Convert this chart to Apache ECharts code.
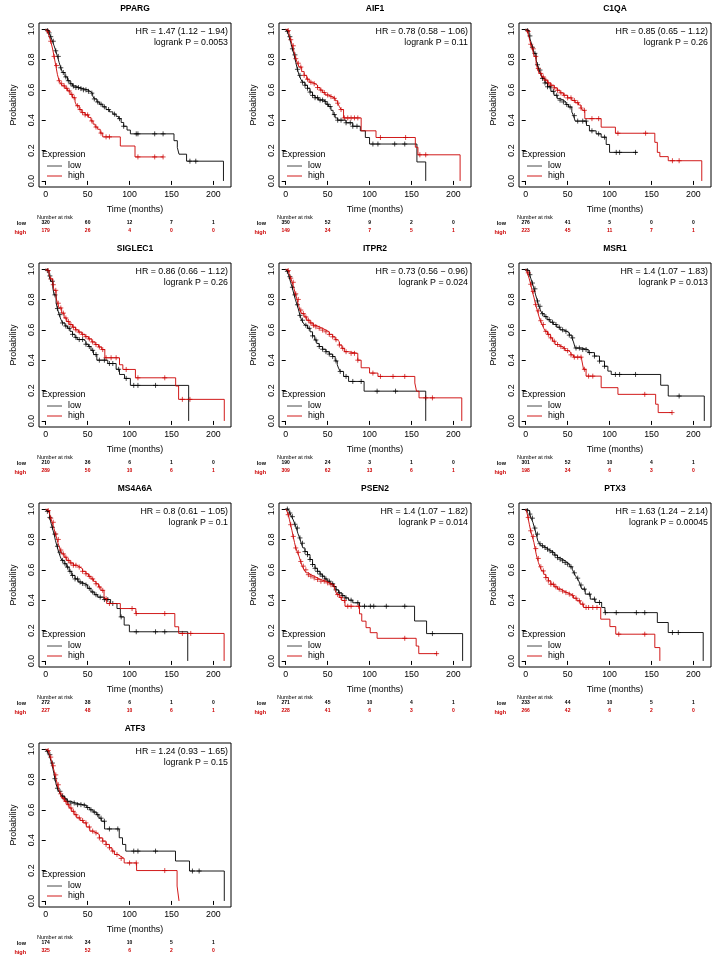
<!DOCTYPE html>
<html>
<head>
<meta charset="utf-8">
<script src="https://cdn.jsdelivr.net/npm/echarts@6/dist/echarts.min.js"></script>
<style>
  html, body { margin: 0; padding: 0; background: #fff; }
  #main { width: 719px; height: 962px; }
</style>
</head>
<body>
<div id="main"></div>
<script>
// panel names and stats text
const genes = ['PPARG', 'AIF1', 'C1QA', 'SIGLEC1', 'ITPR2', 'MSR1', 'MS4A6A', 'PSEN2', 'PTX3', 'ATF3'];
const hrText = [
  'HR = 1.47 (1.12 \u2212 1.94)', 'HR = 0.78 (0.58 \u2212 1.06)', 'HR = 0.85 (0.65 \u2212 1.12)',
  'HR = 0.86 (0.66 \u2212 1.12)', 'HR = 0.73 (0.56 \u2212 0.96)', 'HR = 1.4 (1.07 \u2212 1.83)',
  'HR = 0.8 (0.61 \u2212 1.05)', 'HR = 1.4 (1.07 \u2212 1.82)', 'HR = 1.63 (1.24 \u2212 2.14)',
  'HR = 1.24 (0.93 \u2212 1.65)'
];
const pText = [
  'logrank P = 0.0053', 'logrank P = 0.11', 'logrank P = 0.26', 'logrank P = 0.26', 'logrank P = 0.024',
  'logrank P = 0.013', 'logrank P = 0.1', 'logrank P = 0.014', 'logrank P = 0.00045', 'logrank P = 0.15'
];

const xTicks = [0, 50, 100, 150, 200];
const yTicks = [0, 0.2, 0.4, 0.6, 0.8, 1.0];

// number at risk at 0/50/100/150/200 months
const lowRisk = [
  [320, 60, 12, 7, 1], [350, 52, 9, 2, 0], [276, 41, 5, 0, 0], [210, 36, 6, 1, 0], [190, 24, 3, 1, 0],
  [301, 52, 10, 4, 1], [272, 38, 6, 1, 0], [271, 45, 10, 4, 1], [233, 44, 10, 5, 1], [174, 34, 10, 5, 1]
];
const highRisk = [
  [179, 26, 4, 0, 0], [149, 34, 7, 5, 1], [223, 45, 11, 7, 1], [289, 50, 10, 6, 1], [309, 62, 13, 6, 1],
  [198, 34, 6, 3, 0], [227, 48, 10, 6, 1], [228, 41, 6, 3, 0], [266, 42, 6, 2, 0], [325, 52, 6, 2, 0]
];

// survival curves [months, probability]
const lowCurves = [
  [[0,1],[2,0.99],[4,0.975],[6,0.95],[8,0.92],[10,0.89],[12,0.857],[14,0.82],[16,0.78],[18,0.745],[20,0.714],[23,0.685],[26,0.66],[29,0.64],[32,0.625],[36,0.615],[40,0.608],[45,0.6],[50,0.59],[53,0.578],[56,0.56],[58,0.54],[61,0.52],[64,0.505],[68,0.488],[72,0.47],[76,0.455],[80,0.44],[84,0.425],[87,0.41],[90,0.385],[93,0.36],[97,0.335],[101,0.31],[153,0.265],[157,0.22],[159,0.176],[168,0.13],[212,0]],
  [[0,1],[2,0.985],[4,0.95],[6,0.91],[8,0.87],[10,0.83],[12,0.78],[14,0.735],[16,0.695],[18,0.67],[20,0.65],[23,0.63],[26,0.61],[29,0.585],[32,0.563],[35,0.548],[39,0.533],[45,0.523],[48,0.505],[51,0.49],[54,0.465],[56.5,0.437],[59,0.415],[62,0.4],[72,0.383],[80,0.36],[89,0.33],[95,0.286],[100,0.243],[156.5,0.125],[167,0]],
  [[0,1],[2,0.99],[4,0.955],[6,0.92],[8,0.88],[10,0.84],[12.4,0.796],[14,0.765],[16,0.73],[18,0.7],[20,0.675],[23,0.645],[26,0.62],[30,0.59],[33.7,0.564],[37.6,0.542],[41,0.532],[45,0.52],[48,0.503],[51,0.487],[55,0.454],[57,0.43],[59,0.394],[72.5,0.365],[76,0.33],[84,0.31],[90,0.288],[96,0.24],[100,0.188],[133,0.188]],
  [[0,1],[2,0.99],[4,0.955],[6,0.92],[8.5,0.875],[10,0.83],[12.4,0.777],[14,0.74],[16,0.7],[18,0.67],[20,0.645],[23,0.625],[26,0.61],[29,0.59],[32,0.57],[35,0.55],[37.6,0.536],[45,0.525],[48,0.505],[51,0.49],[54,0.465],[57,0.437],[61,0.4],[74,0.378],[84,0.34],[88,0.306],[94,0.28],[101,0.234],[170.5,0]],
  [[0,1],[2,0.985],[4,0.95],[6,0.91],[7.7,0.88],[10,0.83],[11.5,0.8],[13.5,0.765],[15.4,0.73],[17,0.695],[19,0.663],[21,0.645],[23,0.63],[26,0.61],[29,0.587],[32,0.56],[34.6,0.533],[37,0.51],[40,0.49],[44,0.472],[48,0.456],[52,0.44],[56,0.424],[59,0.395],[61.5,0.37],[63,0.348],[65,0.326],[69,0.293],[75,0.26],[93.5,0.196],[167,0]],
  [[0,1],[2,0.99],[4.7,0.963],[6,0.94],[7.8,0.908],[10,0.87],[11.8,0.83],[14,0.79],[15.7,0.755],[17.5,0.73],[19.6,0.706],[22,0.687],[25.5,0.667],[29,0.65],[33,0.635],[37,0.617],[41,0.6],[45,0.59],[49,0.58],[52,0.565],[55,0.547],[57,0.52],[59,0.48],[66.7,0.47],[74.5,0.45],[82,0.427],[88,0.394],[94,0.36],[98,0.328],[102,0.306],[161,0.235],[170,0.164],[213,0]],
  [[0,1],[2,0.985],[4.6,0.945],[6,0.915],[7.7,0.88],[10,0.835],[11.6,0.793],[13.5,0.755],[15.5,0.716],[17.5,0.685],[19.3,0.662],[22,0.64],[25,0.618],[28,0.59],[31,0.563],[35,0.54],[38.7,0.52],[42,0.51],[46.4,0.5],[50,0.478],[54,0.454],[58,0.436],[62,0.42],[69.6,0.404],[77.4,0.378],[85,0.345],[89,0.29],[93.6,0.236],[99.8,0.192],[169.4,0]],
  [[0,1],[3,0.99],[5,0.974],[7,0.95],[8.9,0.93],[11,0.9],[12.7,0.875],[14.5,0.84],[16.6,0.81],[18.5,0.775],[20.5,0.744],[23,0.72],[26,0.7],[29,0.668],[32,0.635],[35,0.61],[37.8,0.59],[41,0.572],[43.6,0.558],[46.5,0.54],[49.4,0.525],[53,0.508],[57,0.49],[60,0.468],[63,0.448],[67,0.43],[70.7,0.415],[75,0.4],[80,0.383],[88,0.36],[153.7,0.263],[168,0.18],[211,0]],
  [[0,1],[2,0.99],[4.7,0.967],[6.5,0.94],[8.6,0.912],[10.5,0.875],[12.5,0.835],[14.5,0.79],[16.5,0.772],[18.4,0.758],[21,0.747],[24,0.736],[27,0.725],[30,0.714],[34,0.697],[37.9,0.68],[41,0.67],[43.8,0.66],[47,0.648],[49.6,0.637],[52.5,0.62],[55.5,0.604],[57.5,0.58],[59.4,0.56],[61.5,0.545],[63.3,0.527],[65,0.5],[67,0.473],[71,0.44],[77,0.407],[82.8,0.385],[90.6,0.352],[94.5,0.318],[157,0.253],[170,0.187],[211.7,0]],
  [[0,1],[2,0.985],[3.9,0.963],[5.5,0.935],[7,0.908],[8.4,0.875],[9.7,0.842],[11,0.805],[12.5,0.766],[14,0.742],[15.6,0.722],[17.5,0.705],[19.5,0.69],[22.5,0.672],[25.3,0.656],[30,0.645],[35,0.634],[44.8,0.63],[48.5,0.615],[52.6,0.6],[56.5,0.585],[60.4,0.568],[63.5,0.545],[66.3,0.525],[70.2,0.474],[87.7,0.416],[91.6,0.372],[95.5,0.328],[154.8,0.263],[171.5,0.197],[213,0]]
];
const highCurves = [
  [[0,1],[2,0.985],[4,0.955],[6,0.92],[8,0.875],[10,0.82],[12,0.76],[14,0.7],[16,0.66],[18,0.64],[20,0.626],[23,0.61],[26,0.593],[29,0.57],[32,0.548],[35,0.52],[37,0.495],[40,0.47],[43,0.45],[47,0.435],[51,0.418],[54,0.395],[56.5,0.374],[59,0.355],[62,0.34],[65,0.315],[68,0.29],[89,0.23],[106.5,0.158],[140,0.158]],
  [[0,1],[2,0.99],[4,0.96],[6,0.93],[8,0.89],[10,0.85],[12,0.805],[14,0.775],[16,0.75],[19,0.72],[22,0.695],[25,0.67],[28,0.65],[32,0.64],[35,0.63],[38,0.615],[41,0.598],[44,0.582],[47,0.566],[51,0.555],[55,0.544],[59,0.528],[62,0.512],[64,0.49],[66,0.47],[69,0.415],[90,0.33],[107.7,0.286],[154.6,0.222],[157.7,0.172],[208,0]],
  [[0,1],[2,0.985],[4,0.945],[6,0.9],[8,0.87],[10,0.82],[12.4,0.774],[14,0.74],[16,0.708],[19,0.685],[22,0.664],[26,0.645],[30,0.63],[34,0.613],[37.6,0.597],[41,0.58],[45,0.564],[50,0.547],[55,0.53],[59,0.515],[63,0.5],[66,0.48],[68,0.465],[70.5,0.41],[90,0.354],[107,0.314],[154,0.254],[157,0.188],[160,0.16],[170,0.133],[210,0]],
  [[0,1],[2,0.99],[4,0.965],[6,0.935],[8.5,0.897],[10,0.86],[12.4,0.81],[14,0.775],[16,0.744],[19,0.71],[22,0.678],[25,0.655],[28,0.635],[32,0.617],[35.6,0.6],[39,0.585],[43,0.57],[47,0.555],[51,0.54],[55,0.52],[59,0.503],[63,0.487],[66.7,0.47],[70.5,0.416],[88,0.37],[92,0.339],[107,0.284],[155,0.23],[158.5,0.142],[213,0]],
  [[0,1],[2,0.99],[4,0.97],[6,0.94],[7.7,0.913],[10,0.87],[11.5,0.837],[13.5,0.8],[15.4,0.76],[17,0.73],[19,0.707],[22,0.685],[25,0.663],[29,0.645],[32.7,0.63],[36,0.62],[40,0.61],[44,0.598],[48,0.587],[52,0.57],[56,0.554],[59,0.535],[61.5,0.522],[64,0.5],[67,0.478],[70,0.456],[75,0.445],[86,0.4],[90,0.35],[100,0.315],[110,0.293],[154,0.25],[156,0.196],[159,0.152],[210,0]],
  [[0,1],[2,0.975],[4,0.94],[6,0.9],[7.8,0.853],[10,0.81],[11.8,0.766],[14,0.725],[15.7,0.69],[17.5,0.66],[19.6,0.635],[21.5,0.61],[23.5,0.59],[26,0.57],[29.4,0.547],[32,0.525],[35,0.503],[39,0.49],[43,0.477],[47,0.463],[51,0.45],[54,0.435],[57,0.42],[66.7,0.405],[69,0.34],[72,0.295],[90,0.219],[110,0.175],[155,0.11],[158,0.055],[174.5,0.055]],
  [[0,1],[2,0.99],[4.6,0.967],[6,0.94],[7.7,0.913],[10,0.87],[11.6,0.836],[13.5,0.8],[15.5,0.76],[17.5,0.73],[19.3,0.705],[22,0.683],[25,0.662],[29,0.645],[33,0.63],[37,0.618],[40.6,0.607],[44,0.59],[48,0.574],[51,0.557],[54,0.54],[57,0.524],[60,0.508],[63,0.487],[65.8,0.465],[69.6,0.41],[72.7,0.378],[89,0.345],[107.5,0.312],[154,0.225],[158.6,0.181],[212.8,0]],
  [[0,1],[1.5,0.985],[3,0.963],[4.5,0.93],[5.8,0.897],[7.4,0.86],[8.9,0.82],[10.5,0.78],[12,0.744],[14,0.715],[15.8,0.69],[17.8,0.655],[19.7,0.624],[22,0.6],[24.3,0.58],[27,0.568],[30,0.558],[34,0.547],[37.8,0.536],[42,0.525],[47.5,0.514],[52,0.502],[57,0.49],[59,0.465],[61,0.437],[64,0.418],[66.8,0.398],[70.7,0.36],[88,0.31],[90.7,0.262],[95.8,0.219],[100.8,0.186],[109,0.149],[155.6,0.098],[158.7,0.048],[180.7,0.048]],
  [[0,1],[1.5,0.975],[2.7,0.945],[4.3,0.9],[5.9,0.857],[7.8,0.82],[9.8,0.78],[11.2,0.74],[12.5,0.703],[13.8,0.675],[15.2,0.648],[17,0.62],[19,0.593],[21.5,0.57],[24,0.549],[27,0.527],[30,0.505],[34,0.488],[37.9,0.473],[41.8,0.46],[45.7,0.45],[49.6,0.44],[53.5,0.43],[57,0.413],[61,0.396],[65,0.374],[69,0.352],[89.5,0.275],[100.4,0.226],[107.4,0.176],[154,0.088],[160,0]],
  [[0,1],[2,0.99],[3.9,0.974],[5.5,0.947],[7,0.92],[8.4,0.89],[9.7,0.864],[11,0.83],[12.5,0.8],[14,0.765],[15.6,0.733],[17.5,0.705],[19.5,0.678],[22.5,0.656],[25.3,0.634],[28,0.612],[31,0.59],[34,0.568],[37,0.547],[41,0.53],[44.8,0.514],[48.5,0.487],[52.6,0.46],[56.5,0.448],[60.4,0.437],[64,0.415],[68,0.394],[72,0.372],[76,0.35],[79,0.328],[82,0.306],[86,0.293],[89.7,0.28],[93.6,0.25],[108.4,0.2],[156.7,0.098],[159,0]]
];

// censoring times (months)
const lowCensor = [
  [2,4,6,9,12,15,18,21,24,27,30,33,36,39,42,45,48,51,55,58,62,66,70,75,82,88,93,108,110,130,140,172,179],
  [2,5,8,11,14,17,20,23,26,29,32,35,38,41,44,47,50,53,58,62,66,72,77,80,85,104,110,130,142],
  [2,5,8,11,14,17,20,23,26,29,33,37,41,45,49,53,58,62,68,72,79,87,94,108,112,131],
  [2,5,8,11,14,17,20,24,28,32,36,40,44,48,52,56,60,64,70,76,80,87,96,105,110,131],
  [2,5,8,11,14,17,20,24,28,32,36,40,44,48,52,56,60,65,72,80,90,109,131],
  [2,5,8,11,14,17,20,24,28,32,36,40,44,48,52,56,60,64,68,72,76,82,88,94,107,112,131,183],
  [2,5,8,11,14,17,20,23,26,29,32,35,38,41,44,48,52,56,60,65,70,74,80,90,108,131,142],
  [2,5,8,11,14,17,20,23,26,29,32,35,38,41,44,48,52,56,60,64,68,72,78,86,94,101,105,120,142,175],
  [2,5,8,11,14,17,20,23,26,29,32,35,38,41,44,47,50,54,58,62,66,70,76,82,88,95,108,132,142,175,182],
  [2,5,8,11,14,17,20,23,26,30,34,38,42,46,50,54,58,62,66,70,76,86,105,110,131,175,183]
];
const highCensor = [
  [3,6,10,13,16,19,22,25,28,31,34,38,41,44,47,50,55,60,66,72,76,110,130,140],
  [3,6,9,12,15,18,22,26,30,34,38,42,46,50,54,58,62,66,70,74,78,82,86,113,143,160,167],
  [3,6,9,12,15,18,21,24,27,30,34,38,42,46,50,54,58,62,66,70,79,87,110,143,175,183],
  [3,6,9,12,15,18,21,24,27,30,33,36,40,44,48,52,56,60,64,68,72,78,84,96,110,142,163,172],
  [3,6,9,12,15,18,21,24,27,30,33,36,40,44,48,52,56,60,64,68,72,78,82,86,104,113,128,142,167,175],
  [3,6,9,12,15,18,21,24,27,30,34,38,42,46,50,54,58,62,66,70,75,80,142,174.5],
  [3,6,9,12,15,18,21,24,27,30,33,36,40,44,48,52,56,60,64,68,72,76,103,108,142,163,173],
  [3,6,9,12,15,18,21,24,27,30,34,38,42,46,50,54,58,62,66,70,74,78,87,142,180],
  [3,6,9,12,15,18,21,24,27,30,33,36,40,44,48,52,56,60,64,68,72,75,80,85,111,142],
  [3,6,9,12,15,18,21,24,27,30,33,36,40,44,48,52,56,60,64,68,72,76,80,85,90,100,108,142]
];

const RED = '#cc0000';
const FONT = '"Liberation Sans", Arial, Helvetica, sans-serif';
const PLUS = 'path://M0,4L8,4M4,0L4,8';

// value of a step curve at time t
function survAt(curve, t) {
  var s = curve[0][1];
  for (var k = 0; k < curve.length; k++) {
    if (curve[k][0] <= t) s = curve[k][1];
  }
  return s;
}

function buildOption() {
  var grids = [], xAxes = [], yAxes = [], series = [], graphics = [];

  genes.forEach(function (gene, i) {
    var col = i % 3, row = Math.floor(i / 3);
    var gx = col * 240 + 39, gy = row * 240 + 23, w = 192, h = 164;
    grids.push({ left: gx, top: gy, width: w, height: h, show: true, borderColor: '#000', borderWidth: 1 });

    xAxes.push({
      gridIndex: i, type: 'value', min: -8, max: 221,
      axisLine: { show: false }, splitLine: { show: false },
      axisTick: { show: true, length: 4, customValues: xTicks, lineStyle: { color: '#000' } },
      axisLabel: { customValues: xTicks, fontSize: 8.8, color: '#000', margin: 3, fontFamily: FONT },
      name: 'Time (months)', nameLocation: 'middle', nameGap: 18,
      nameTextStyle: { fontSize: 8.8, color: '#000', fontFamily: FONT }
    });
    xAxes.push({
      gridIndex: i, type: 'value', min: -8, max: 221, position: 'bottom', offset: 33,
      axisLine: { show: false }, axisTick: { show: false }, splitLine: { show: false },
      axisLabel: { customValues: xTicks, fontSize: 5, color: '#000', margin: 0, fontFamily: FONT, fontWeight: 'bold',
        formatter: function (v) { return String(lowRisk[i][xTicks.indexOf(v)]); } }
    });
    xAxes.push({
      gridIndex: i, type: 'value', min: -8, max: 221, position: 'bottom', offset: 41.5,
      axisLine: { show: false }, axisTick: { show: false }, splitLine: { show: false },
      axisLabel: { customValues: xTicks, fontSize: 5, color: RED, margin: 0, fontFamily: FONT, fontWeight: 'bold',
        formatter: function (v) { return String(highRisk[i][xTicks.indexOf(v)]); } }
    });

    yAxes.push({
      gridIndex: i, type: 'value', min: -0.04, max: 1.04,
      axisLine: { show: false }, splitLine: { show: false },
      axisTick: { show: true, length: 4, customValues: yTicks, lineStyle: { color: '#000' } },
      axisLabel: { customValues: yTicks, rotate: 90, fontSize: 8.8, color: '#000', margin: 3, fontFamily: FONT,
        formatter: function (v) { return v.toFixed(1); } },
      name: 'Probability', nameLocation: 'middle', nameGap: 21, nameRotate: 90,
      nameTextStyle: { fontSize: 8.8, color: '#000', fontFamily: FONT }
    });

    var xi = i * 3;
    series.push({
      type: 'line', step: 'end', xAxisIndex: xi, yAxisIndex: i, data: lowCurves[i],
      showSymbol: false, silent: true, lineStyle: { color: '#000', width: 0.9 }
    });
    series.push({
      type: 'line', step: 'end', xAxisIndex: xi, yAxisIndex: i, data: highCurves[i],
      showSymbol: false, silent: true, lineStyle: { color: RED, width: 0.9 }
    });
    series.push({
      type: 'scatter', xAxisIndex: xi, yAxisIndex: i, symbol: PLUS, symbolSize: 5, silent: true,
      data: lowCensor[i].map(function (t) { return [t, survAt(lowCurves[i], t)]; }),
      itemStyle: { color: 'transparent', borderColor: '#000', borderWidth: 0.9 }
    });
    series.push({
      type: 'scatter', xAxisIndex: xi, yAxisIndex: i, symbol: PLUS, symbolSize: 5, silent: true,
      data: highCensor[i].map(function (t) { return [t, survAt(highCurves[i], t)]; }),
      itemStyle: { color: 'transparent', borderColor: RED, borderWidth: 0.9 }
    });

    // panel title and stats
    graphics.push({ type: 'text', x: gx + w / 2, y: row * 240 + 9,
      style: { text: gene, font: 'bold 8.5px ' + FONT, fill: '#000', align: 'center', verticalAlign: 'middle' } });
    graphics.push({ type: 'text', x: gx + w - 3, y: gy + 9,
      style: { text: hrText[i], font: '8.8px ' + FONT, fill: '#000', align: 'right', verticalAlign: 'middle' } });
    graphics.push({ type: 'text', x: gx + w - 3, y: gy + 19.5,
      style: { text: pText[i], font: '8.8px ' + FONT, fill: '#000', align: 'right', verticalAlign: 'middle' } });

    // legend
    graphics.push({ type: 'text', x: gx + 3, y: gy + 132,
      style: { text: 'Expression', font: '8.8px ' + FONT, fill: '#000', align: 'left', verticalAlign: 'middle' } });
    graphics.push({ type: 'line', shape: { x1: gx + 8, y1: gy + 143, x2: gx + 23, y2: gy + 143 },
      style: { stroke: '#333', lineWidth: 0.9 } });
    graphics.push({ type: 'text', x: gx + 29, y: gy + 143,
      style: { text: 'low', font: '8.8px ' + FONT, fill: '#000', align: 'left', verticalAlign: 'middle' } });
    graphics.push({ type: 'line', shape: { x1: gx + 8, y1: gy + 153, x2: gx + 23, y2: gy + 153 },
      style: { stroke: RED, lineWidth: 0.9 } });
    graphics.push({ type: 'text', x: gx + 29, y: gy + 153,
      style: { text: 'high', font: '8.8px ' + FONT, fill: '#000', align: 'left', verticalAlign: 'middle' } });

    // number at risk table labels
    graphics.push({ type: 'text', x: gx - 2, y: row * 240 + 217.5,
      style: { text: 'Number at risk', font: '5.5px ' + FONT, fill: '#000', align: 'left', verticalAlign: 'middle' } });
    graphics.push({ type: 'text', x: gx - 13, y: gy + h + 36.5,
      style: { text: 'low', font: 'bold 5.5px ' + FONT, fill: '#000', align: 'right', verticalAlign: 'middle' } });
    graphics.push({ type: 'text', x: gx - 13, y: gy + h + 45,
      style: { text: 'high', font: 'bold 5.5px ' + FONT, fill: RED, align: 'right', verticalAlign: 'middle' } });
  });

  return {
    backgroundColor: '#fff',
    animation: false,
    grid: grids,
    xAxis: xAxes,
    yAxis: yAxes,
    series: series,
    graphic: graphics
  };
}

const chart = echarts.init(document.getElementById('main'));
chart.setOption(buildOption());
</script>
</body>
</html>
